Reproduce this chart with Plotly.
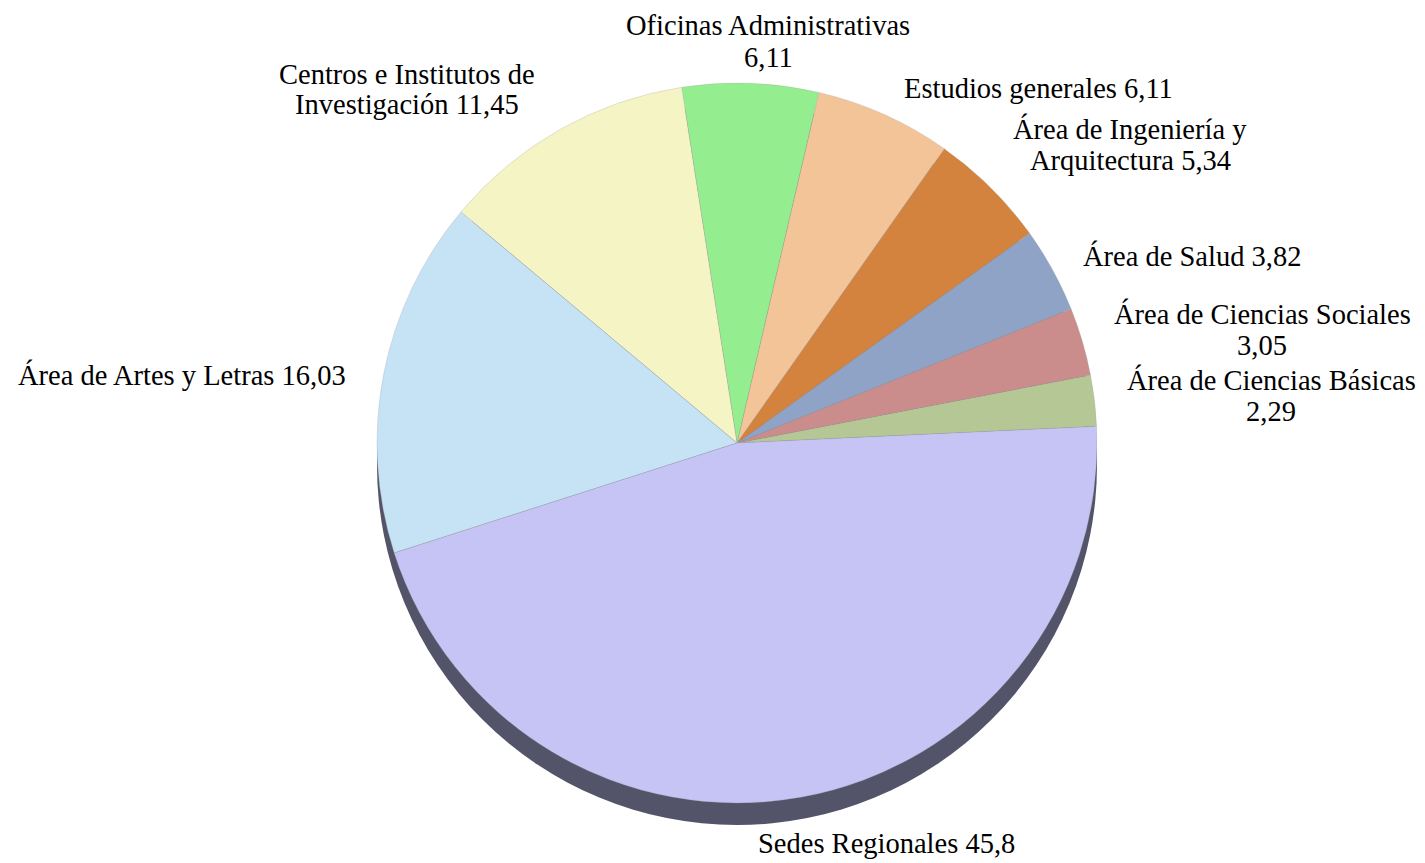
import plotly.graph_objects as go

# Data (counter-clockwise order starting just above 3 o'clock)
categories = [
    "Área de Ciencias Básicas",
    "Área de Ciencias Sociales",
    "Área de Salud",
    "Área de Ingeniería y Arquitectura",
    "Estudios generales",
    "Oficinas Administrativas",
    "Centros e Institutos de Investigación",
    "Área de Artes y Letras",
    "Sedes Regionales",
]
values = [2.29, 3.05, 3.82, 5.34, 6.11, 6.11, 11.45, 16.03, 45.8]
value_labels = ["2,29", "3,05", "3,82", "5,34", "6,11", "6,11", "11,45", "16,03", "45,8"]

# Label line layout (text wrapping) and positions in window pixels (style, not data)
label_lines = [
    ["Área de Ciencias Básicas", "{v}"],
    ["Área de Ciencias Sociales", "{v}"],
    ["Área de Salud {v}"],
    ["Área de Ingeniería y", "Arquitectura {v}"],
    ["Estudios generales {v}"],
    ["Oficinas Administrativas", "{v}"],
    ["Centros e Institutos de", "Investigación {v}"],
    ["Área de Artes y Letras {v}"],
    ["Sedes Regionales {v}"],
]
label_px = [
    (1271, 380), (1262, 314), (1192, 256), (1130, 129), (1038, 89),
    (768, 26), (407, 74), (182, 375), (886, 843),
]
line_gap = 31
colors = ["#b4c795", "#cb8c8c", "#8ea3c5", "#d4833e", "#f3c498",
          "#94ee8f", "#f5f4c5", "#c6e2f5", "#c6c4f4"]

# page body has an 8px margin: figure is placed at (8, 8)
OFF = 8
W, H = 1425 - 2 * OFF, 863 - OFF
cx, cy, r = 737 - OFF, 443 - OFF, 360
shadow_dy = 22


def dom(cx, cy, r):
    return dict(x=[(cx - r) / W, (cx + r) / W],
                y=[(H - cy - r) / H, (H - cy + r) / H])


fig = go.Figure()
# 3D rim / shadow
fig.add_trace(go.Pie(
    values=[sum(values)], labels=["rim"], sort=False,
    marker=dict(colors=["#535369"], line=dict(width=0)),
    textinfo="none", hoverinfo="skip", showlegend=False,
    domain=dom(cx, cy + shadow_dy, r),
))
fig.add_trace(go.Pie(
    labels=categories, values=values, sort=False,
    direction="counterclockwise", rotation=79.1,
    marker=dict(colors=colors, line=dict(width=0.8, color="rgba(160,160,160,0.35)")),
    textinfo="none", showlegend=False,
    domain=dom(cx, cy, r),
))

for lines, v, (x, y) in zip(label_lines, value_labels, label_px):
    for i, ln in enumerate(lines):
        fig.add_annotation(
            text=ln.format(v=v), x=(x - OFF) / W, y=1 - (y - OFF + i * line_gap) / H,
            xref="paper", yref="paper",
            xanchor="center", yanchor="middle", align="center", showarrow=False,
            font=dict(family="Liberation Serif", size=28.5, color="#000000"),
        )

fig.update_layout(
    width=W, height=H, margin=dict(l=0, r=0, t=0, b=0),
    paper_bgcolor="white", plot_bgcolor="white",
)
fig.write_html("out.html")
